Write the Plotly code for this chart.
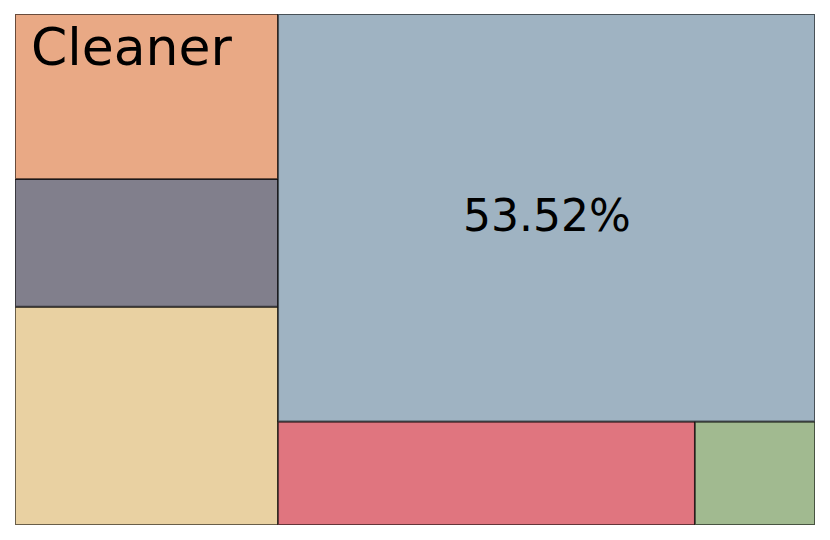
import plotly.graph_objects as go

# share of each cell (%), in squarify order
values = [14.04, 8.22, 10.62, 10.56, 3.04, 53.52]
colors = ["#E9D1A2", "#817F8C", "#E9A985", "#E0757F", "#A1BA90", "#9FB3C2"]
labels = ["", "", "Cleaner", "", "", "53.52%"]


def worst(sizes, length):
    s = sum(sizes)
    w = s / length
    return max(max(w / (a / w), (a / w) / w) for a in sizes)


def squarify(sizes, x, y, dx, dy):
    """
    squarified treemap, returns (x, y, dx, dy) per size
    """
    if not sizes:
        return []
    if len(sizes) == 1:
        return [(x, y, dx, dy)]
    side = min(dx, dy)
    i = 1
    while i < len(sizes) and worst(sizes[:i], side) >= worst(sizes[:i + 1], side):
        i += 1
    row, rest = sizes[:i], sizes[i:]
    rects = []
    if dx >= dy:
        width = sum(row) / dy
        yy = y
        for a in row:
            rects.append((x, yy, width, a / width))
            yy += a / width
        return rects + squarify(rest, x + width, y, dx - width, dy)
    height = sum(row) / dx
    xx = x
    for a in row:
        rects.append((xx, y, a / height, height))
        xx += a / height
    return rects + squarify(rest, x, y + height, dx, dy - height)


total = sum(values)
areas = [v * 100 * 100 / total for v in values]
rects = squarify(areas, 0, 0, 100, 100)

fig = go.Figure()

for (x, y, dx, dy), col in zip(rects, colors):
    fig.add_trace(
        go.Scatter(
            x=[x, x + dx, x + dx, x, x],
            y=[y, y, y + dy, y + dy, y],
            mode="lines",
            fill="toself",
            fillcolor=col,
            line=dict(color="rgba(0,0,0,0.55)", width=2),
            hoverinfo="skip",
            showlegend=False
        )
    )

# "Cleaner" sits in the top-left corner of its cell
cx, cy, cdx, cdy = rects[2]
fig.add_annotation(
    x=cx + 1.8, y=cy + cdy - 6.5,
    text=labels[2],
    showarrow=False,
    xanchor="left", yanchor="middle",
    font=dict(family="DejaVu Sans", size=52, color="black")
)

# percentage centred in the big cell
bx, by, bdx, bdy = rects[5]
fig.add_annotation(
    x=bx + bdx / 2, y=by + bdy / 2 + 0.5,
    text=labels[5],
    showarrow=False,
    xanchor="center", yanchor="middle",
    font=dict(family="DejaVu Sans", size=44, color="black")
)

# page body adds 8px, so margins are trimmed to keep the plot at 15..815 / 14..525
fig.update_layout(
    width=830,
    height=540,
    margin=dict(l=7, r=23, t=6, b=23),
    plot_bgcolor="white",
    paper_bgcolor="white",
    xaxis=dict(range=[0, 100], visible=False, fixedrange=True),
    yaxis=dict(range=[0, 100], visible=False, fixedrange=True)
)

fig.write_html("out.html")
